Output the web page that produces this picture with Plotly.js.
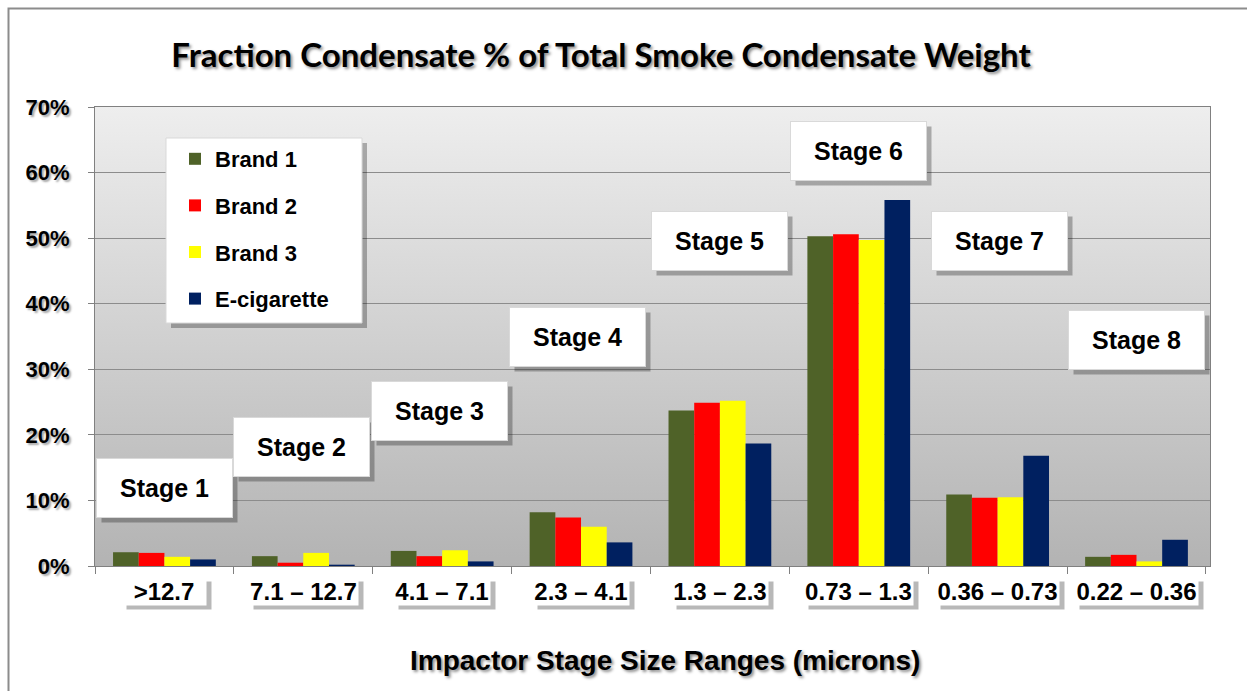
<!DOCTYPE html>
<html>
<head>
<meta charset="utf-8">
<script src="https://cdn.plot.ly/plotly-3.0.1.min.js"></script>
<style>html,body{margin:0;padding:0;background:#fff;}#chart{width:1247px;height:691px;}</style>
</head>
<body>
<div id="chart"></div>
<script>
// ---- data ----
const categories = [">12.7", "7.1 – 12.7", "4.1 – 7.1", "2.3 – 4.1", "1.3 – 2.3", "0.73 – 1.3", "0.36 – 0.73", "0.22 – 0.36"];
const stageLabels = ["Stage 1", "Stage 2", "Stage 3", "Stage 4", "Stage 5", "Stage 6", "Stage 7", "Stage 8"];
const seriesNames = ["Brand 1", "Brand 2", "Brand 3", "E-cigarette"];
const brand1 = [0.021, 0.015, 0.023, 0.082, 0.237, 0.503, 0.109, 0.014];
const brand2 = [0.020, 0.005, 0.015, 0.074, 0.249, 0.506, 0.104, 0.017];
const brand3 = [0.014, 0.020, 0.024, 0.060, 0.252, 0.497, 0.105, 0.007];
const ecig   = [0.010, 0.002, 0.007, 0.036, 0.187, 0.558, 0.168, 0.040];
const yTicks = [0, 0.1, 0.2, 0.3, 0.4, 0.5, 0.6, 0.7];

// ---- styling ----
const colors = ["#4F6228", "#FF0000", "#FFFF00", "#002060"];
const seriesValues = [brand1, brand2, brand3, ecig];
const fam = "Liberation Sans, Arial, sans-serif";
const shadowCol = "rgba(0,0,0,0.28)";

function textWidth(t, size) {
  const c = document.createElement("canvas").getContext("2d");
  c.font = "bold " + size + "px " + fam;
  return Math.ceil(c.measureText(t).width);
}

const traces = seriesNames.map((n, i) => ({
  type: "bar", name: n, x: categories, y: seriesValues[i],
  marker: {color: colors[i], line: {width: 0}},
  legendgroup: "g" + i, hoverinfo: "name+y"
}));

// stage label box positions (layout only)
const stageY = [0.119, 0.181, 0.236, 0.349, 0.496, 0.633, 0.496, 0.345];
const stageShift = [0, -2, -3, -4, 0, 0, 2, 0];

const annotations = [];
stageLabels.forEach((s, i) => {
  annotations.push({xref: "x", yref: "y", x: categories[i], y: stageY[i], xshift: stageShift[i] + 5, yshift: -5,
    text: " ", showarrow: false, width: 131, height: 54, borderpad: 2, bgcolor: shadowCol,
    font: {family: fam, size: 25, color: "rgba(0,0,0,0)"}});
  annotations.push({xref: "x", yref: "y", x: categories[i], y: stageY[i], xshift: stageShift[i],
    text: s, showarrow: false, width: 131, height: 54, borderpad: 2,
    font: {family: fam, size: 25, color: "#000", weight: "bold"}, align: "center", valign: "middle",
    bgcolor: "#ffffff", bordercolor: "#d9d9d9", borderwidth: 1});
});
categories.forEach((c, i) => {
  const w = Math.max(textWidth(c, 24) + 2, 84);
  annotations.push({xref: "x", yref: "paper", x: c, y: -0.0545, yanchor: "middle", xshift: 5, yshift: -4,
    text: " ", showarrow: false, width: w, height: 27, borderpad: 0, bgcolor: shadowCol,
    font: {family: fam, size: 24, color: "rgba(0,0,0,0)"}});
  annotations.push({xref: "x", yref: "paper", x: c, y: -0.0545, yanchor: "middle",
    text: c, showarrow: false, width: w, height: 27, borderpad: 0, bgcolor: "#ffffff",
    font: {family: fam, size: 24, color: "#000", weight: "bold"}});
});
annotations.push({xref: "paper", yref: "paper", x: 0.511, y: -0.2048, yanchor: "middle", showarrow: false,
  text: "Impactor Stage Size Ranges (microns)",
  font: {family: fam, size: 28, color: "#000", weight: "bold", shadow: "2px 2px 3px rgba(0,0,0,0.45)"}});

const gradSvg = '<svg xmlns="http://www.w3.org/2000/svg" width="100" height="100" preserveAspectRatio="none"><defs><linearGradient id="g" x1="0" y1="0" x2="0" y2="1"><stop offset="0" stop-color="#eeeeee"/><stop offset="1" stop-color="#b3b3b3"/></linearGradient></defs><rect width="100" height="100" fill="url(#g)"/></svg>';

// pixel -> paper helpers
const W = 1115, H = 459, L = 95, T = 107;
const px = x => (x - L) / W, py = y => (T + H - y) / H;

const layout = {
  width: 1247, height: 691,
  margin: {l: L, r: 37, t: T, b: 125},
  paper_bgcolor: "#ffffff", plot_bgcolor: "rgba(0,0,0,0)",
  title: {text: "Fraction Condensate % of Total Smoke Condensate Weight",
    font: {family: "Lato, Calibri, sans-serif", size: 33, color: "#000", weight: "bold", shadow: "2px 2px 3px rgba(0,0,0,0.45)"},
    xref: "container", x: 0.482, xanchor: "center", yref: "container", y: 0.92, yanchor: "middle"},
  barmode: "group", bargap: 0.26, bargroupgap: 0,
  xaxis: {type: "category", showticklabels: false, ticks: "outside", tickson: "boundaries", ticklen: 7,
    tickcolor: "#808080", showline: true, linecolor: "#808080", mirror: true, showgrid: false, fixedrange: true},
  yaxis: {range: [0, 0.7], tickvals: yTicks, tickformat: ".0%", ticks: "outside", ticklen: 6, tickcolor: "#808080",
    showline: true, linecolor: "#808080", mirror: true, gridcolor: "#8c8c8c", gridwidth: 1, zeroline: false,
    tickfont: {family: fam, size: 22, color: "#000", weight: "bold", shadow: "2px 2px 2px rgba(0,0,0,0.35)"}, ticklabelstandoff: 14, fixedrange: true},
  legend: {x: px(175), y: py(138), xanchor: "left", yanchor: "top", bgcolor: "rgba(0,0,0,0)", borderwidth: 0,
    font: {family: fam, size: 22, color: "#000", weight: "bold"}, tracegroupgap: 15, itemwidth: 30},
  images: [{source: "data:image/svg+xml;charset=utf-8," + encodeURIComponent(gradSvg), xref: "paper", yref: "paper",
    x: 0, y: 1, sizex: 1, sizey: 1, sizing: "stretch", layer: "below", xanchor: "left", yanchor: "top"}],
  shapes: [
    {type: "rect", xref: "paper", yref: "paper", x0: px(8.5), x1: px(1262), y0: py(705), y1: py(8.5), line: {color: "#8c8c8c", width: 2}, fillcolor: "rgba(0,0,0,0)", layer: "below"},
    {type: "rect", xref: "paper", yref: "paper", x0: px(171), x1: px(367), y0: py(328), y1: py(143), line: {width: 0}, fillcolor: shadowCol, layer: "above"},
    {type: "rect", xref: "paper", yref: "paper", x0: px(166), x1: px(362), y0: py(323), y1: py(138), line: {width: 1, color: "#d9d9d9"}, fillcolor: "#ffffff", layer: "above"}
  ],
  annotations: annotations,
  showlegend: true
};

Plotly.newPlot("chart", traces, layout, {displayModeBar: false, staticPlot: true});
</script>
</body>
</html>
